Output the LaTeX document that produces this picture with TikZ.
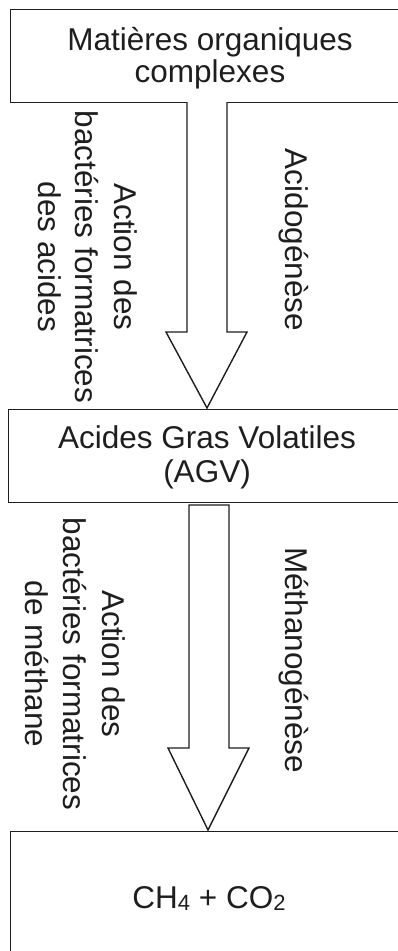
\documentclass[tikz,border=0pt]{standalone}
\usepackage{fontspec}
\setmainfont{Liberation Sans}
\definecolor{ink}{HTML}{1E1E1E}
\tikzset{
  box/.style={draw=ink, line width=1.4pt, rectangle, inner sep=0pt, anchor=north west},
  blockarrow/.style={draw=ink, line width=1.4pt, fill=white, line join=miter},
  lbl/.style={text=ink, inner sep=0pt, anchor=base, font=\fontsize{31.5}{33}\selectfont},
  vlbl/.style={lbl, rotate=-90},
}
\begin{document}
\begin{tikzpicture}[x=1pt,y=-1pt]
\useasboundingbox (0,0) rectangle (398,951);
\begin{scope}
\clip (0,0) rectangle (398,951);
% boxes
\node[box, minimum width=420pt, minimum height=93pt] (mo) at (10,9) {};
\node[box, minimum width=420pt, minimum height=93pt] (agv) at (8,409) {};
\node[box, minimum width=420pt, minimum height=160pt] (gaz) at (10,831) {};
% arrows
\coordinate (a1tip) at (207,408);
\coordinate (a2tip) at (208,830);
\draw[blockarrow] (187,102) -- (187,332) -- (166,332) -- (a1tip) -- (247,332) -- (227,332) -- (227,102);
\draw[blockarrow] (189,505) -- (189,748) -- (168,748) -- (a2tip) -- (249,748) -- (229,748) -- (229,505) -- cycle;
\end{scope}
% box texts
\node[lbl] (mo1) at (210,50) {Matières organiques};
\node[lbl] (mo2) at (210,82) {complexes};
\node[lbl] (agv1) at (207,448) {Acides Gras Volatiles};
\node[lbl] (agv2) at (207,482) {(AGV)};
\node[lbl] (gaz1) at (209,908) {CH\raisebox{-2pt}{\fontsize{22}{22}\selectfont 4} + CO\raisebox{-2pt}{\fontsize{22}{22}\selectfont 2}};
% rotated labels, first arrow
\node[vlbl] (acido) at (285,240) {Acidogénèse};
\node[vlbl] (act1a) at (114,257) {Action des};
\node[vlbl] (act1b) at (75,257) {bactéries formatrices};
\node[vlbl] (act1c) at (38,257) {des acides};
% rotated labels, second arrow
\node[vlbl] (metha) at (285,660) {Méthanogénèse};
\node[vlbl] (act2a) at (102,664) {Action des};
\node[vlbl] (act2b) at (63,664) {bactéries formatrices};
\node[vlbl] (act2c) at (25,664) {de méthane};
\end{tikzpicture}
\end{document}
